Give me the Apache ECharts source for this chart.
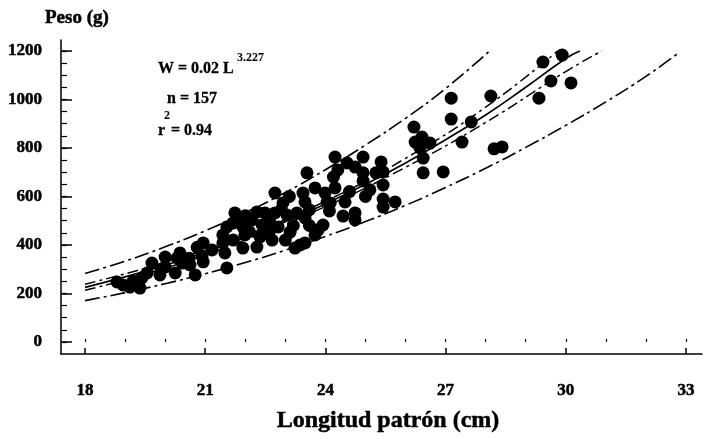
<!DOCTYPE html>
<html>
<head>
<meta charset="utf-8">
<script src="https://cdn.jsdelivr.net/npm/echarts@6/dist/echarts.min.js"></script>
<style>
html,body{margin:0;padding:0;background:#fff;}
#c{width:704px;height:439px;}
</style>
</head>
<body>
<div id="c"></div>
<script>
// ---- Data ----
var xMajorTicks = [18, 21, 24, 27, 30, 33];
var xMinorTicks = [18,19,20,21,22,23,24,25,26,27,28,29,30,31,32,33];
var yMajorTicks = [0, 200, 400, 600, 800, 1000, 1200];
var yMinorTicks = [0,50,100,150,200,250,300,350,400,450,500,550,600,650,700,750,800,850,900,950,1000,1050,1100,1150,1200];

// observed fish (length cm, weight g)
var ptX = [29.91,29.43,29.63,30.13,29.33,28.13,27.14,27.14,27.64,27.41,28.21,28.41,26.21,26.24,26.41,26.61,26.36,26.44,26.44,26.94,
           24.24,24.94,24.54,25.39,24.31,24.74,24.94,25.26,25.44,24.94,25.11,25.44,24.24,24.49,24.12,25.44,25.44,25.74,24.44,24.74,24.74,
           23.54,22.74,23.44,23.74,23.99,22.94,23.49,24.04,21.74,22.29,22.49,22.74,23.04,23.29,23.49,22.17,21.69,21.54,21.94,22.42,22.82,
           23.12,23.94,23.74,23.82,21.44,21.99,22.67,22.37,22.29,21.94,23.24,23.37,23.49,21.44,21.49,20.95,21.17,20.92,20.95,21.54,20.75,20.62,
           18.80,18.95,19.12,19.37,19.42,19.55,19.67,19.87,20.00,20.00,20.25,20.37,20.42,20.30,
           21.80,22.00,22.60,22.90,23.20,23.60,22.10,22.60,21.70,23.00,23.60,24.10,20.60,20.80,19.90,19.20,24.60,25.00,24.20,23.10];
var ptY = [1183,1154,1076,1068,1005,1014,1005,919,907,824,796,804,886,824,845,820,800,758,697,701,
           762,762,738,742,709,721,697,697,701,664,627,647,635,577,573,589,556,577,519,532,503,
           697,614,614,635,614,573,577,577,532,536,532,532,523,532,511,503,490,474,474,482,474,
           453,482,441,462,441,441,420,433,391,387,387,400,408,408,367,408,379,354,330,305,276,317,
           247,235,226,222,264,284,325,276,350,309,284,367,325,346,
           500,520,500,545,480,545,455,455,420,420,480,540,345,390,300,250,620,600,680,600];

// fitted curve W = 0.02 L^3.227
var fitX = [18, 19, 20, 21, 22, 23, 24, 25, 26, 27, 28, 29, 30, 30.35];
var fitY = [225, 268, 316, 370, 430, 496, 569, 650, 738, 834, 936, 1050, 1169, 1200];
// inner (confidence) bands
var ciUpX = [18, 20, 22, 24, 26, 28, 29.8];
var ciUpY = [238, 328, 440, 580, 757, 968, 1200];
var ciLoX = [18, 20, 22, 24, 26, 28, 30, 30.9];
var ciLoY = [213, 304, 420, 558, 720, 905, 1115, 1200];
// outer (prediction) bands
var piUpX = [18, 19, 20, 21, 22, 23, 24, 25, 26, 27, 28.1];
var piUpY = [282, 333, 392, 458, 533, 616, 710, 812, 922, 1045, 1200];
var piLoX = [18, 19, 20, 21, 22, 23, 24, 25, 26, 27, 28, 29, 30, 31, 32, 32.8];
var piLoY = [170, 203, 240, 281, 327, 378, 435, 496, 563, 637, 716, 802, 893, 990, 1095, 1190];

function pairs(xs, ys){ var o=[]; for(var i=0;i<xs.length;i++) o.push([xs[i], ys[i]]); return o; }

var FONT = '"Liberation Serif", "Times New Roman", serif';
var chart = echarts.init(document.getElementById('c'), null, {renderer:'canvas'});

var lineBase = {type:'line', smooth:true, symbol:'none', silent:true, z:2};
var heavy = {textBorderColor:'#000', textBorderWidth:0.5};

function txt(x, y, s, size, align, sw){
  return {type:'text', x:x, y:y, silent:true,
    style:{text:s, font:'bold '+size+'px '+FONT, fill:'#000', stroke:'#000', lineWidth:sw,
           verticalAlign:'middle', align:align}};
}

var option = {
  backgroundColor:'#fff',
  animation:false,
  grid:{left:61, right:2, top:40, bottom:85, containLabel:false, outerBoundsMode:'none'},
  xAxis:[{
    type:'value', min:17.4, max:33.4,
    axisLine:{show:true, onZero:false, lineStyle:{color:'#000', width:1.5}},
    axisTick:{show:true, inside:true, length:6, customValues:xMajorTicks, lineStyle:{color:'#000', width:1.5}},
    axisLabel:Object.assign({show:true, customValues:xMajorTicks, margin:28, color:'#000', fontFamily:FONT, fontWeight:'bold', fontSize:17,
      formatter:function(v){return String(v);}}, heavy),
    splitLine:{show:false}
  },{
    type:'value', min:17.4, max:33.4, position:'bottom',
    axisLine:{show:false},
    axisTick:{show:true, inside:true, length:3, customValues:xMinorTicks, lineStyle:{color:'#000', width:1.2}},
    axisLabel:{show:false},
    splitLine:{show:false}
  }],
  yAxis:[{
    type:'value', min:-50, max:1245,
    axisLine:{show:true, onZero:false, lineStyle:{color:'#000', width:1.5}},
    axisTick:{show:true, inside:true, length:11, customValues:yMajorTicks, lineStyle:{color:'#000', width:1.5}},
    axisLabel:Object.assign({show:true, customValues:yMajorTicks, margin:19, color:'#000', fontFamily:FONT, fontWeight:'bold', fontSize:17,
      formatter:function(v){return String(v);}}, heavy),
    splitLine:{show:false}
  },{
    type:'value', min:-50, max:1245, position:'left',
    axisLine:{show:false},
    axisTick:{show:true, inside:true, length:6, customValues:yMinorTicks, lineStyle:{color:'#000', width:1.2}},
    axisLabel:{show:false},
    splitLine:{show:false}
  }],
  series:[
    Object.assign({}, lineBase, {data:pairs(piUpX, piUpY), lineStyle:{color:'#000', width:1.6, type:[15,4,3,4]}}),
    Object.assign({}, lineBase, {data:pairs(piLoX, piLoY), lineStyle:{color:'#000', width:1.6, type:[15,4,3,4]}}),
    Object.assign({}, lineBase, {data:pairs(ciUpX, ciUpY), lineStyle:{color:'#000', width:1.5, type:[11,4,3,4]}}),
    Object.assign({}, lineBase, {data:pairs(ciLoX, ciLoY), lineStyle:{color:'#000', width:1.5, type:[11,4,3,4]}}),
    Object.assign({}, lineBase, {data:pairs(fitX, fitY), lineStyle:{color:'#000', width:1.7, type:'solid'}}),
    {type:'scatter', data:pairs(ptX, ptY), symbol:'circle', symbolSize:13, itemStyle:{color:'#000', opacity:1}, z:3, silent:true}
  ],
  graphic:[
    txt(45, 18, 'Peso (g)', 19, 'left', 0.5),
    txt(388, 421, 'Longitud patrón (cm)', 24, 'center', 0.5),
    txt(158, 69, 'W = 0.02 L', 16, 'left', 0.3),
    txt(237, 58, '3.227', 12, 'left', 0),
    txt(167, 99, 'n = 157', 16, 'left', 0.3),
    txt(158, 131, 'r', 16, 'left', 0.3),
    txt(164, 116, '2', 12, 'left', 0),
    txt(171, 131, '= 0.94', 16, 'left', 0.3)
  ]
};
chart.setOption(option);
</script>
</body>
</html>
